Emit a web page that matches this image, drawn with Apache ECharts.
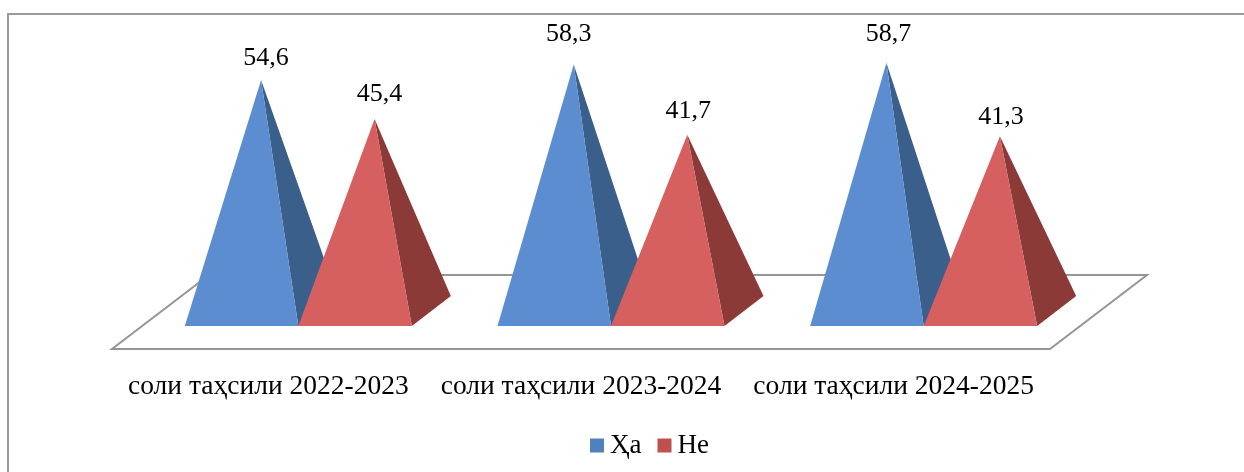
<!DOCTYPE html>
<html><head><meta charset="utf-8">
<style>html,body{margin:0;padding:0;background:#fff}#c{width:1244px;height:472px}</style>
<script src="https://cdn.jsdelivr.net/npm/echarts@6/dist/echarts.min.js"></script>
</head><body><div id="c"></div>
<script>
const categories = ['соли таҳсили 2022-2023', 'соли таҳсили 2023-2024', 'соли таҳсили 2024-2025'];
const yesName = 'Ҳа';
const noName = 'Не';
const yesValues = [54.6, 58.3, 58.7];
const noValues = [45.4, 41.7, 41.3];

const FONT = '"Liberation Serif","Times New Roman",serif';
const PW = 113.5, DX = 39, DY = 30;
const chart = echarts.init(document.getElementById('c'), null, {renderer: 'canvas'});
const fmt = v => String(v).replace('.', ',');

function pyramidSeries(name, values, slot, legendColor, face, side, nudges) {
  return {
    name, type: 'custom', coordinateSystem: 'cartesian2d', clip: false,
    itemStyle: {color: legendColor},
    data: values.map((v, i) => [i, v]),
    encode: {x: 0, y: 1},
    renderItem(params, api) {
      const i = api.value(0), v = api.value(1);
      const top = api.coord([i, v]);
      const base = api.coord([i, 0]);
      const left = base[0] + 30 - PW + slot * PW, right = left + PW, y0 = base[1];
      const ax = left + PW / 2 + DX / 2, ay = top[1] - DY / 2;
      const n = nudges[i];
      return {type: 'group', children: [
        {type: 'polygon', shape: {points: [[ax, ay], [right, y0], [right + DX, y0 - DY]]}, style: {fill: side}},
        {type: 'polygon', shape: {points: [[ax, ay], [left, y0], [right, y0]]}, style: {fill: face}},
        {type: 'text', x: ax + n[0], y: ay + n[1], style: {text: fmt(v), fill: '#000', font: '26px ' + FONT, textAlign: 'center', textVerticalAlign: 'middle'}}
      ]};
    }
  };
}

chart.setOption({
  animation: false,
  backgroundColor: '#fff',
  textStyle: {fontFamily: FONT},
  grid: {left: 112, width: 938, top: 30, height: 296, containLabel: false},
  xAxis: {type: 'category', data: categories, boundaryGap: true,
    axisLine: {show: false}, axisTick: {show: false}, splitLine: {show: false},
    axisLabel: {margin: 47, fontSize: 27.5, fontFamily: FONT, color: '#000', interval: 0}},
  yAxis: {type: 'value', min: 0, max: 70, show: false, splitLine: {show: false}},
  legend: {left: 585, top: 427, itemWidth: 14, itemHeight: 14, itemGap: 16, itemStyle: {borderWidth: 0}, icon: 'rect',
    data: [yesName, noName], textStyle: {fontSize: 27, fontFamily: FONT, color: '#000', padding: [0, 0, 0, 1]}},
  graphic: [{type: 'polyline', silent: true, z: -10,
    shape: {points: [[8, 472], [8, 14], [1244, 14]]},
    style: {stroke: '#9a9a9a', lineWidth: 2, fill: 'none'}}],
  series: [
    {type: 'custom', coordinateSystem: 'cartesian2d', silent: true, clip: false, z: 1, legendHoverLink: false,
      data: [[0, 0]],
      renderItem(params) {
        const c = params.coordSys, x0 = c.x, x1 = c.x + c.width, yb = c.y + c.height;
        return {type: 'polygon', shape: {points: [[x0, yb + 23], [x1, yb + 23], [x1 + 97, yb - 51], [x0 + 97, yb - 51]]},
          style: {fill: '#fff', stroke: '#969696', lineWidth: 2}};
      }},
    Object.assign(pyramidSeries(yesName, yesValues, 0, '#4f81bd', '#5b8dd0', '#3a5f8b', [[5, -22], [-5, -30], [2, -29]]), {z: 2}),
    Object.assign(pyramidSeries(noName, noValues, 1, '#c0504d', '#d65f5f', '#8c3a38', [[5, -25], [1, -23], [1, -19]]), {z: 3})
  ]
});
</script></body></html>
